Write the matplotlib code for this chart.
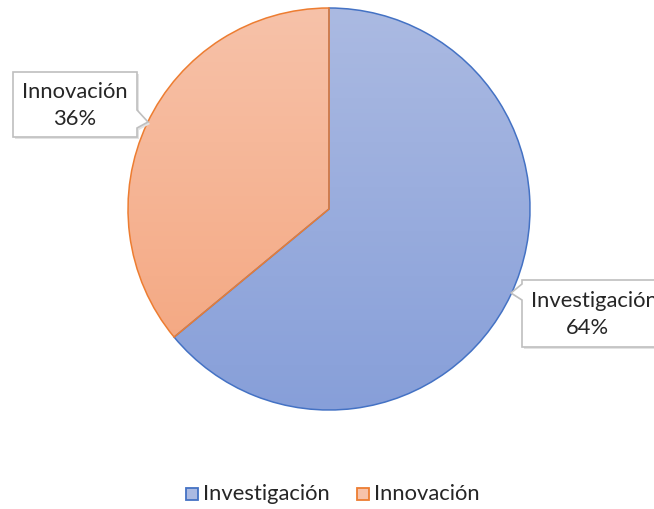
import numpy as np
import matplotlib.pyplot as plt
from matplotlib.patches import Polygon, Rectangle
from matplotlib.colors import LinearSegmentedColormap

labels = ["Investigación", "Innovación"]
values = [64, 36]
edge_colors = ["#4472C4", "#ED7D31"]
grad_top = ["#ABBAE2", "#F7C2A9"]
grad_bottom = ["#879FD9", "#F4A47C"]

plt.rcParams["font.family"] = ["Lato", "DejaVu Sans"]
FS = 15.8

W, H = 654, 509
fig = plt.figure(figsize=(W / 100, H / 100), dpi=100)
ax = fig.add_axes([0, 0, 1, 1])

cx, cy, r = 329, H - 209, 201

wedges, _ = ax.pie(values, startangle=90, counterclock=False, center=(cx, cy),
                   radius=r, frame=True,
                   wedgeprops=dict(facecolor="none", linewidth=1.1))
ax.set_xlim(0, W)
ax.set_ylim(0, H)
ax.set_aspect("auto")
ax.axis("off")

grad = np.linspace(0, 1, 256).reshape(-1, 1)
for w, ec, top, bot in zip(wedges, edge_colors, grad_top, grad_bottom):
    w.set_edgecolor(ec)
    w.set_zorder(3)
    cmap = LinearSegmentedColormap.from_list("g", [top, bot])
    im = ax.imshow(grad, cmap=cmap, aspect="auto", origin="upper",
                   extent=(cx - r, cx + r, cy - r, cy + r), zorder=2)
    im.set_clip_path(w)


def callout(x0, x1, ytop, ybot, tip, base, side):
    # box given in image (pixel, y down) coords
    yt, yb = H - ytop, H - ybot
    b0, b1 = H - base[0], H - base[1]
    tx, ty = tip[0], H - tip[1]
    if side == "right":
        pts = [(x0, yt), (x1, yt), (x1, b0), (tx, ty), (x1, b1), (x1, yb), (x0, yb)]
    else:
        pts = [(x0, yt), (x1, yt), (x1, yb), (x0, yb), (x0, b1), (tx, ty), (x0, b0)]
    shadow = Polygon([(px + 2, py - 2) for px, py in pts], closed=True,
                     facecolor="#E3E3E3", edgecolor="none", zorder=4)
    box = Polygon(pts, closed=True, facecolor="white", edgecolor="#BFBFBF",
                  linewidth=1.2, zorder=5)
    ax.add_patch(shadow)
    ax.add_patch(box)


callout(13, 137, 72, 137, (148, 122), (110, 128), "right")
ax.text(75, H - 92, labels[1], ha="center", va="center", fontsize=FS,
        color="#262626", zorder=6)
ax.text(75, H - 119, f"{values[1]}%", ha="center", va="center", fontsize=FS,
        color="#262626", zorder=6)

callout(522, 700, 280, 347, (511, 293), (284, 300), "left")
ax.text(531, H - 301, labels[0], ha="left", va="center", fontsize=FS,
        color="#262626", zorder=6)
ax.text(587, H - 328, f"{values[0]}%", ha="center", va="center", fontsize=FS,
        color="#262626", zorder=6)

# legend
leg_x = [186, 357]
for lx, lab, ec, top, bot in zip(leg_x, labels, edge_colors, grad_top, grad_bottom):
    ax.add_patch(Rectangle((lx, H - 500), 12, 12, facecolor=top, edgecolor=ec,
                           linewidth=1.3, zorder=5))
    ax.text(lx + 17, H - 494, lab, ha="left", va="center", fontsize=FS,
            color="#262626", zorder=6)

fig.savefig("out.png", dpi=100)
